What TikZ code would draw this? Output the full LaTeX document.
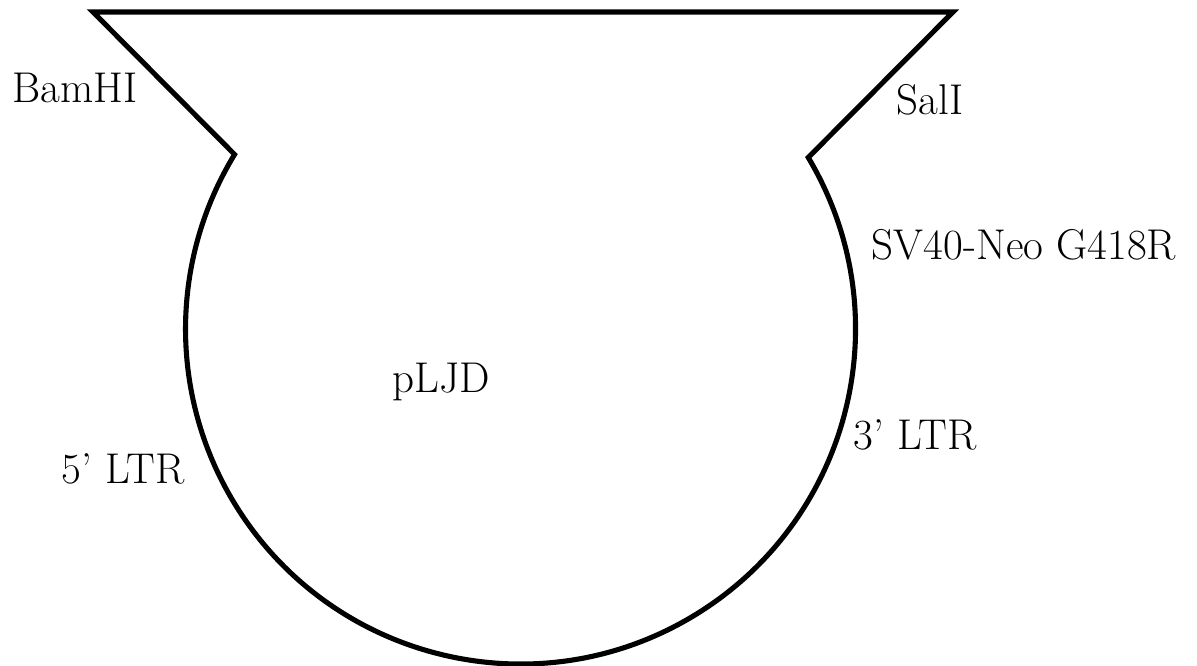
\documentclass[tikz,border=0pt]{standalone}
\usetikzlibrary{calc}
\begin{document}
\begin{tikzpicture}[x=0.02cm,y=0.02cm,
    lbl/.style={font=\fontsize{24.5}{28}\selectfont,anchor=base,inner sep=0pt}]
\useasboundingbox (0,0) rectangle (1197,-666);
\coordinate (c) at (520.5,-329);
\coordinate (l) at ($(c)+(148.6:335)$);
\coordinate (r) at ($(c)+(30.8:335)$);
% vector outline
\draw[line width=2.9pt,line join=miter] (l)--(93,-12)--(953,-12)--(r)
    arc[start angle=30.8,end angle=-211.4,radius=335]--cycle;
\node[lbl] (bam) at (75,-102){BamHI};
\node[lbl] (sal) at (930,-114){SalI};
\node[lbl] (neo) at (1024,-259){SV40-Neo G418R};
\node[lbl] (plj) at (441,-392){pLJD};
\node[lbl] (ltr3) at (915,-449){3' LTR};
\node[lbl] (ltr5) at (123,-483){5' LTR};
\end{tikzpicture}
\end{document}
